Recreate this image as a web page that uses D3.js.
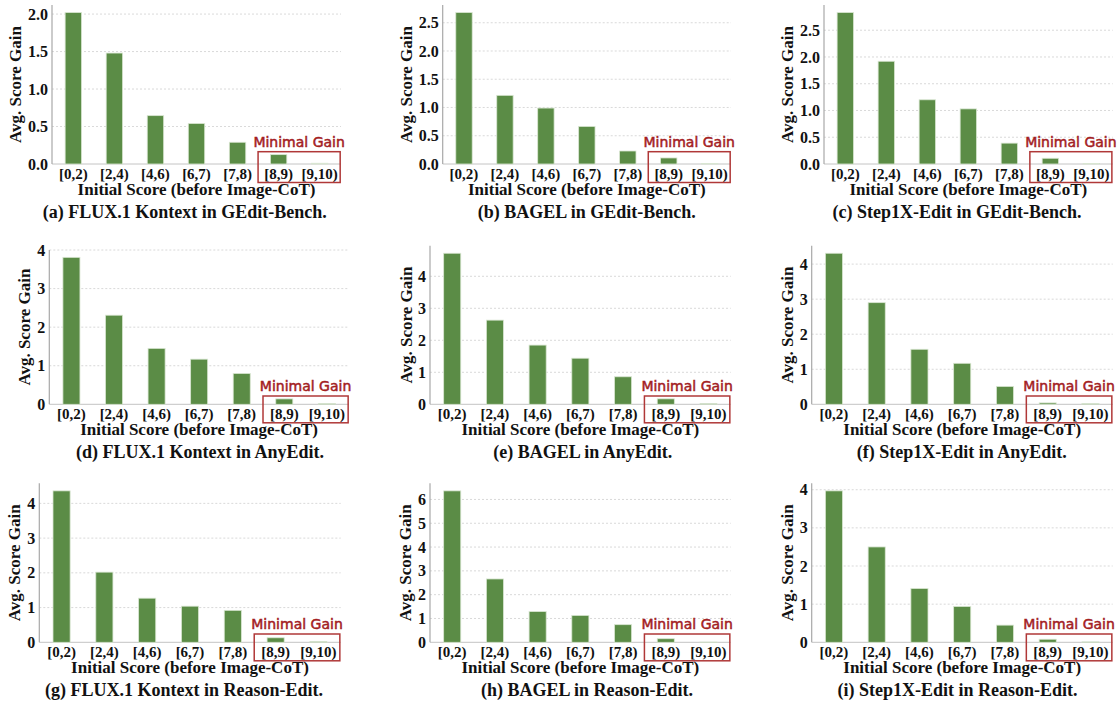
<!DOCTYPE html>
<html>
<head>
<meta charset="utf-8">
<script src="https://cdn.jsdelivr.net/npm/d3@7/dist/d3.min.js"></script>
<style>
  html, body { margin: 0; padding: 0; background: #ffffff; }
  svg { display: block; }
</style>
</head>
<body>
<svg id="fig" width="1120" height="702"></svg>
<script>
// Score-range bins on the x axis
const categories = ["[0,2)", "[2,4)", "[4,6)", "[6,7)", "[7,8)", "[8,9)", "[9,10)"];

// Average score gain per bin
const fluxGEdit    = [2.02, 1.48, 0.645, 0.54, 0.29, 0.125, 0.01];
const bagelGEdit   = [2.68, 1.215, 0.99, 0.665, 0.23, 0.107, 0.01];
const step1xGEdit  = [2.83, 1.92, 1.20, 1.03, 0.39, 0.107, 0.01];
const fluxAnyEdit  = [3.81, 2.31, 1.45, 1.17, 0.80, 0.14, 0.02];
const bagelAnyEdit = [4.72, 2.63, 1.85, 1.44, 0.86, 0.17, 0.02];
const step1xAnyEdit= [4.31, 2.90, 1.57, 1.17, 0.51, 0.04, 0.02];
const fluxReason   = [4.36, 2.02, 1.27, 1.04, 0.92, 0.13, 0.02];
const bagelReason  = [6.36, 2.66, 1.29, 1.13, 0.74, 0.15, 0.01];
const step1xReason = [3.97, 2.50, 1.41, 0.94, 0.45, 0.08, 0.01];

// Y tick values
const ticksTo2   = [0, 0.5, 1.0, 1.5, 2.0];
const ticksTo25  = [0, 0.5, 1.0, 1.5, 2.0, 2.5];
const ticksTo4   = [0, 1, 2, 3, 4];
const ticksTo6   = [0, 1, 2, 3, 4, 5, 6];

// Subfigure captions
const captions = [
  "(a) FLUX.1 Kontext in GEdit-Bench.",
  "(b) BAGEL in GEdit-Bench.",
  "(c) Step1X-Edit in GEdit-Bench.",
  "(d) FLUX.1 Kontext in AnyEdit.",
  "(e) BAGEL in AnyEdit.",
  "(f) Step1X-Edit in AnyEdit.",
  "(g) FLUX.1 Kontext in Reason-Edit.",
  "(h) BAGEL in Reason-Edit.",
  "(i) Step1X-Edit in Reason-Edit."
];

const axisTitleX = "Initial Score (before Image-CoT)";
const axisTitleY = "Avg. Score Gain";
const calloutText = "Minimal Gain";

const seriesList = [fluxGEdit, bagelGEdit, step1xGEdit, fluxAnyEdit, bagelAnyEdit, step1xAnyEdit, fluxReason, bagelReason, step1xReason];
const tickList   = [ticksTo2, ticksTo25, ticksTo25, ticksTo4, ticksTo4, ticksTo4, ticksTo4, ticksTo6, ticksTo4];
const tickFormat = [".1f", ".1f", ".1f", "d", "d", "d", "d", "d", "d"];

// Frame of each small-multiple plot area (pixels)
const frames = [
  {left: 52,    right: 341,    top: 5,     bottom: 164,   capX: 184.7, labX: 21.3, boxTop: 12.3},
  {left: 442.7, right: 731,    top: 5,     bottom: 164,   capX: 586.8, labX: 411.9, boxTop: 12.3},
  {left: 824,   right: 1112.7, top: 5,     bottom: 164,   capX: 957,   labX: 792.9, boxTop: 12.3},
  {left: 49.3,  right: 349,    top: 250,   bottom: 404.3, capX: 200,   labX: 30.3, boxTop: 8.3},
  {left: 430,   right: 730.7,  top: 245.7, bottom: 404.3, capX: 582.8, labX: 411.9, boxTop: 8.3},
  {left: 811.7, right: 1112.7, top: 245.7, bottom: 404.3, capX: 961.7, labX: 792.9, boxTop: 8.3},
  {left: 39.3,  right: 340.7,  top: 483.3, bottom: 642.3, capX: 184,   labX: 20.3, boxTop: 8.3},
  {left: 430,   right: 730.7,  top: 483.3, bottom: 642.3, capX: 587,   labX: 410.9, boxTop: 8.3},
  {left: 811.7, right: 1112.7, top: 483.3, bottom: 642.3, capX: 957.5, labX: 792.9, boxTop: 8.3}
];

const BAR_COLOR = "#5b8c46";
const CALLOUT_COLOR = "#a3201f";
const BOX_COLOR = "#b03838";
const SERIF = "'Liberation Serif', 'Times New Roman', serif";

const svg = d3.select("#fig");

seriesList.forEach((values, i) => {
  const f = frames[i];
  const g = svg.append("g");

  // Bars are centred on integer positions with matplotlib-style margins
  const x = d3.scaleLinear().domain([-0.52, categories.length - 1 + 0.52]).range([f.left, f.right]);
  const step = x(1) - x(0);
  const barW = 0.4 * step;
  const y = d3.scaleLinear().domain([0, d3.max(values) * 1.05]).range([f.bottom, f.top]);

  // Dotted horizontal grid
  g.append("g").selectAll("line")
    .data(tickList[i].filter(t => t > 0))
    .join("line")
    .attr("x1", f.left).attr("x2", f.right)
    .attr("y1", d => y(d)).attr("y2", d => y(d))
    .attr("stroke", "#cfcfcf").attr("stroke-width", 0.8)
    .attr("stroke-dasharray", "2,2");

  // Baseline
  g.append("line")
    .attr("x1", f.left).attr("x2", f.right)
    .attr("y1", y(0)).attr("y2", y(0))
    .attr("stroke", "#c4c4c4").attr("stroke-width", 1);

  // Bars
  g.append("g").selectAll("rect")
    .data(values)
    .join("rect")
    .attr("x", (d, k) => x(k) - barW / 2)
    .attr("width", barW)
    .attr("y", d => y(d))
    .attr("height", d => y(0) - y(d))
    .attr("fill", BAR_COLOR)
    .attr("stroke", "#d9e6d2")
    .attr("stroke-width", 0.8);

  // Left spine
  g.append("line")
    .attr("x1", f.left).attr("x2", f.left)
    .attr("y1", f.top).attr("y2", f.bottom)
    .attr("stroke", "#a8a8a8").attr("stroke-width", 1.2);

  // Y axis tick labels
  const fmt = d3.format(tickFormat[i]);
  g.append("g").selectAll("text")
    .data(tickList[i])
    .join("text")
    .attr("x", f.left - 4)
    .attr("y", d => y(d))
    .attr("dy", "0.35em")
    .attr("text-anchor", "end")
    .attr("font-family", SERIF)
    .attr("font-weight", "bold")
    .attr("font-size", 16)
    .attr("fill", "#111")
    .text(d => fmt(d));

  // X axis tick labels
  g.append("g").selectAll("text")
    .data(categories)
    .join("text")
    .attr("x", (d, k) => x(k))
    .attr("y", f.bottom + 15)
    .attr("text-anchor", "middle")
    .attr("font-family", SERIF)
    .attr("font-weight", "bold")
    .attr("font-size", 15)
    .attr("fill", "#111")
    .text(d => d);

  // Axis titles
  g.append("text")
    .attr("x", (f.left + f.right) / 2)
    .attr("y", f.bottom + 31)
    .attr("text-anchor", "middle")
    .attr("font-family", SERIF)
    .attr("font-weight", "bold")
    .attr("font-size", 17)
    .attr("fill", "#111")
    .text(axisTitleX);

  g.append("text")
    .attr("transform", `translate(${f.labX},${(f.top + f.bottom) / 2}) rotate(-90)`)
    .attr("text-anchor", "middle")
    .attr("font-family", SERIF)
    .attr("font-weight", "bold")
    .attr("font-size", 17)
    .attr("fill", "#111")
    .text(axisTitleY);

  // Highlight box around the two top bins
  const bx0 = x(5) - step / 2;
  const bx1 = x(6) + step / 2;
  const by0 = f.bottom - f.boxTop;
  const by1 = f.bottom + 18.5;
  g.append("rect")
    .attr("x", bx0).attr("y", by0)
    .attr("width", bx1 - bx0).attr("height", by1 - by0)
    .attr("fill", "none")
    .attr("stroke", BOX_COLOR).attr("stroke-width", 1.5);

  g.append("text")
    .attr("x", (bx0 + bx1) / 2)
    .attr("y", by0 - 5)
    .attr("text-anchor", "middle")
    .attr("font-family", "'DejaVu Sans', Verdana, sans-serif")
    .attr("font-size", 14)
    .attr("fill", CALLOUT_COLOR)
    .attr("stroke", CALLOUT_COLOR)
    .attr("stroke-width", 0.5)
    .text(calloutText);

  // Caption
  g.append("text")
    .attr("x", f.capX)
    .attr("y", f.bottom + 54)
    .attr("text-anchor", "middle")
    .attr("font-family", SERIF)
    .attr("font-weight", "bold")
    .attr("font-size", 18)
    .attr("fill", "#111")
    .text(captions[i]);
});
</script>
</body>
</html>
